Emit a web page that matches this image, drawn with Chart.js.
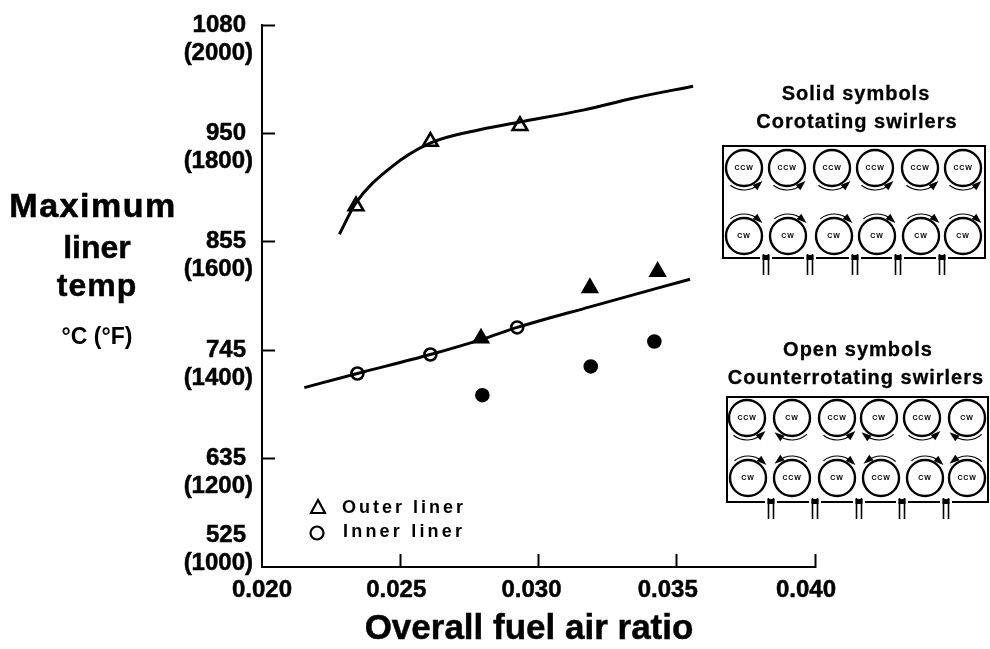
<!DOCTYPE html>
<html>
<head>
<meta charset="utf-8">
<title>Maximum liner temp</title>
<script src="https://cdn.jsdelivr.net/npm/chart.js@4/dist/chart.umd.min.js"></script>
<style>
    html, body { margin: 0; padding: 0; background: #fff; }
    canvas { display: block; }
</style>
</head>
<body>
<canvas id="liner_chart" width="990" height="649"></canvas>
<script>
    // fairing curves
    var outer_curve_x = [0.02280, 0.02340, 0.02463, 0.02608, 0.02799, 0.02933, 0.03161, 0.03342, 0.03559];
    var outer_curve_f = [1614, 1672, 1736, 1782, 1808, 1821, 1843, 1865, 1887];
    var inner_curve_x = [0.02153, 0.02345, 0.02609, 0.02795, 0.02923, 0.03186, 0.03548];
    var inner_curve_f = [1331, 1357, 1392, 1420, 1442, 1480, 1531];

    // counterrotating (open symbols)
    var open_outer_x = [0.02340, 0.02609, 0.02933];
    var open_outer_f = [1666, 1785, 1814];
    var open_inner_x = [0.02345, 0.02609, 0.02923];
    var open_inner_f = [1357, 1392, 1442];

    // corotating (solid symbols)
    var solid_outer_x = [0.02792, 0.03186, 0.03431];
    var solid_outer_f = [1422, 1515, 1545];
    var solid_inner_x = [0.02797, 0.03189, 0.03419];
    var solid_inner_f = [1317, 1370, 1416];

    var x_tick_labels = ["0.020", "0.025", "0.030", "0.035", "0.040"];
    var y_tick_f = [1000, 1200, 1400, 1600, 1800, 2000];
    var y_tick_c = ["525", "635", "745", "855", "950", "1080"];

    var corotating_top = ["CCW", "CCW", "CCW", "CCW", "CCW", "CCW"];
    var corotating_bottom = ["CW", "CW", "CW", "CW", "CW", "CW"];
    var counter_top = ["CCW", "CW", "CCW", "CW", "CCW", "CW"];
    var counter_bottom = ["CW", "CCW", "CW", "CCW", "CW", "CCW"];

    function to_points(xs, ys) {
        var points = [];
        for (var i = 0; i < xs.length; i++) {
            points.push({ x: xs[i], y: ys[i] });
        }
        return points;
    }

    function curve_dataset(name, xs, ys) {
        return {
            label: name,
            data: to_points(xs, ys),
            showLine: true,
            borderColor: "#000",
            borderWidth: 3,
            cubicInterpolationMode: "monotone",
            pointRadius: 0
        };
    }

    function marker_dataset(name, xs, ys, style, fill, size) {
        return {
            label: name,
            data: to_points(xs, ys),
            showLine: false,
            pointStyle: style,
            pointRadius: size,
            pointBackgroundColor: fill,
            pointBorderColor: "#000",
            pointBorderWidth: 2.6
        };
    }

    function put_text(ctx, text, x, y, font, align, spacing, heavy) {
        ctx.font = font;
        ctx.textAlign = align;
        ctx.textBaseline = "middle";
        ctx.letterSpacing = spacing || "0px";
        ctx.fillStyle = "#000";
        ctx.fillText(text, x, y);
        if (heavy) {
            ctx.strokeStyle = "#000";
            ctx.lineWidth = heavy;
            ctx.strokeText(text, x, y);
        }
        ctx.letterSpacing = "0px";
    }

    function draw_swirl_arrow(ctx, cx, cy, below, head_right) {
        var r = 22;
        var left = below ? 128 : -128;
        var right = below ? 48 : -48;
        var a0 = left * Math.PI / 180;
        var a1 = right * Math.PI / 180;
        ctx.lineWidth = 1.2;
        ctx.beginPath();
        ctx.arc(cx, cy, r, a0, a1, below);
        ctx.stroke();

        var head = head_right ? a1 : a0;
        var hx = cx + r * Math.cos(head);
        var hy = cy + r * Math.sin(head);
        // direction of travel along the arc at the head
        var dir = head + ((head_right === below) ? -Math.PI / 2 : Math.PI / 2);
        var side = dir + Math.PI / 2;
        ctx.beginPath();
        ctx.moveTo(hx + 5 * Math.cos(dir), hy + 5 * Math.sin(dir));
        ctx.lineTo(hx - 5 * Math.cos(dir) + 3.5 * Math.cos(side), hy - 5 * Math.sin(dir) + 3.5 * Math.sin(side));
        ctx.lineTo(hx - 5 * Math.cos(dir) - 3.5 * Math.cos(side), hy - 5 * Math.sin(dir) - 3.5 * Math.sin(side));
        ctx.closePath();
        ctx.fill();
    }

    function draw_row(ctx, labels, centers, cy, is_top) {
        for (var i = 0; i < labels.length; i++) {
            ctx.strokeStyle = "#000";
            ctx.lineWidth = 2.4;
            ctx.beginPath();
            ctx.arc(centers[i], cy, 18, 0, Math.PI * 2);
            ctx.stroke();
            put_text(ctx, labels[i], centers[i], cy, "bold 7px 'Liberation Sans'", "center", "0.8px");
            var head_right = is_top ? labels[i] === "CCW" : labels[i] === "CW";
            draw_swirl_arrow(ctx, centers[i], cy, is_top, head_right);
        }
    }

    function draw_inlet(ctx, x, y0, y1) {
        // gap in the box wall where the inlet comes through
        ctx.fillStyle = "#fff";
        ctx.fillRect(x - 6, y0 - 1.5, 12, 3);
        ctx.fillStyle = "#000";
        ctx.lineWidth = 1.6;
        ctx.beginPath();
        ctx.moveTo(x - 2.5, y0 - 4);
        ctx.lineTo(x - 2.5, y1);
        ctx.moveTo(x + 2.5, y0 - 4);
        ctx.lineTo(x + 2.5, y1);
        ctx.stroke();
        ctx.fillRect(x - 3.5, y0 - 3, 7, 5);
    }

    function draw_panel(ctx, box, top_labels, bottom_labels, top_x, bottom_x, top_y, bottom_y, inlets) {
        ctx.strokeStyle = "#000";
        ctx.fillStyle = "#000";
        ctx.lineWidth = 2;
        ctx.strokeRect(box.x0, box.y0, box.x1 - box.x0, box.y1 - box.y0);
        draw_row(ctx, top_labels, top_x, top_y, true);
        draw_row(ctx, bottom_labels, bottom_x, bottom_y, false);
        for (var i = 0; i < inlets.length; i++) {
            draw_inlet(ctx, inlets[i], box.y1, box.y1 + 17);
        }
    }

    var annotation_plugin = {
        id: "annotations",
        afterDraw: function (chart) {
            var ctx = chart.ctx;
            var x_scale = chart.scales.x;
            var y_scale = chart.scales.y;
            var tick_font = "bold 24px 'Liberation Sans'";
            var i;

            ctx.save();

            // y labels sit with the deg C value on the tick, the bottom pair is lifted off the axis
            for (i = 0; i < y_tick_f.length; i++) {
                var py = y_scale.getPixelForValue(y_tick_f[i]);
                var lift = i === 0 ? 32 : 0;
                put_text(ctx, y_tick_c[i], 246, py - lift, tick_font, "right", "0px", 0.5);
                put_text(ctx, "(" + y_tick_f[i] + ")", 253, py - lift + 28, tick_font, "right", "0px", 0.5);
            }

            // x labels drift left of their ticks in the original
            var x_nudge = [0, -4, -7, -9, -9];
            for (i = 0; i < x_tick_labels.length; i++) {
                var px = x_scale.getPixelForValue(parseFloat(x_tick_labels[i]));
                put_text(ctx, x_tick_labels[i], px + x_nudge[i], 590, tick_font, "center", "0px", 0.5);
            }

            put_text(ctx, "Overall fuel air ratio", 529, 629, "bold 35px 'Liberation Sans'", "center", "0px", 0.5);

            put_text(ctx, "Maximum", 93, 208, "bold 34px 'Liberation Sans'", "center", "1.5px", 0.6);
            put_text(ctx, "liner", 97, 249, "bold 32px 'Liberation Sans'", "center", "0px", 0.5);
            put_text(ctx, "temp", 97, 287, "bold 32px 'Liberation Sans'", "center", "1px", 0.5);
            put_text(ctx, "\u00b0C (\u00b0F)", 97, 338, "bold 23px 'Liberation Sans'", "center");

            // legend
            ctx.strokeStyle = "#000";
            ctx.lineWidth = 2.2;
            ctx.beginPath();
            ctx.moveTo(318, 500);
            ctx.lineTo(325, 513);
            ctx.lineTo(311, 513);
            ctx.closePath();
            ctx.stroke();
            ctx.beginPath();
            ctx.arc(317, 533, 6.5, 0, Math.PI * 2);
            ctx.stroke();
            put_text(ctx, "Outer liner", 342, 508, "bold 18px 'Liberation Sans'", "left", "3px");
            put_text(ctx, "Inner liner", 343, 532, "bold 18px 'Liberation Sans'", "left", "3.2px");

            // swirler schematics
            put_text(ctx, "Solid symbols", 856, 94, "bold 20px 'Liberation Sans'", "center", "1px", 0.3);
            put_text(ctx, "Corotating swirlers", 857, 122, "bold 20px 'Liberation Sans'", "center", "1px", 0.3);
            put_text(ctx, "Open symbols", 858, 350, "bold 20px 'Liberation Sans'", "center", "1px", 0.3);
            put_text(ctx, "Counterrotating swirlers", 856, 378, "bold 20px 'Liberation Sans'", "center", "1px", 0.3);

            draw_panel(ctx, { x0: 723, y0: 146, x1: 985, y1: 258 }, corotating_top, corotating_bottom,
                [744, 787, 832, 875, 920, 963], [744, 788, 834, 877, 921, 963], 168, 236,
                [766, 810, 855, 898, 942]);
            draw_panel(ctx, { x0: 727, y0: 397, x1: 988, y1: 502 }, counter_top, counter_bottom,
                [747, 792, 837, 879, 922, 967], [748, 792, 837, 881, 925, 967], 418, 478,
                [771, 815, 859, 902, 946]);

            ctx.restore();
        }
    };

    function hide_origin_tick(context) {
        return context.index === 0 ? "rgba(0,0,0,0)" : "#000";
    }

    new Chart(document.getElementById("liner_chart").getContext("2d"), {
        type: "scatter",
        data: {
            datasets: [
                curve_dataset("Outer liner fit", outer_curve_x, outer_curve_f),
                curve_dataset("Inner liner fit", inner_curve_x, inner_curve_f),
                marker_dataset("Outer liner, counterrotating", open_outer_x, open_outer_f, "triangle", "#fff", 8.5),
                marker_dataset("Inner liner, counterrotating", open_inner_x, open_inner_f, "circle", "#fff", 6),
                marker_dataset("Outer liner, corotating", solid_outer_x, solid_outer_f, "triangle", "#000", 8),
                marker_dataset("Inner liner, corotating", solid_inner_x, solid_inner_f, "circle", "#000", 6)
            ]
        },
        options: {
            responsive: false,
            animation: false,
            layout: { padding: { top: 25, right: 175, bottom: 0, left: 0 } },
            plugins: {
                legend: { display: false },
                tooltip: { enabled: false }
            },
            scales: {
                x: {
                    type: "linear",
                    min: 0.02,
                    max: 0.04,
                    afterFit: function (scale) { scale.height = 82; },
                    border: { color: "#000", width: 2 },
                    grid: { drawOnChartArea: false, tickLength: -13, tickWidth: 2, color: hide_origin_tick },
                    ticks: { display: false, stepSize: 0.005 }
                },
                y: {
                    type: "linear",
                    min: 1000,
                    max: 2000,
                    afterFit: function (scale) { scale.width = 262; },
                    border: { color: "#000", width: 2 },
                    grid: { drawOnChartArea: false, tickLength: -13, tickWidth: 2, color: hide_origin_tick },
                    ticks: { display: false, stepSize: 200 }
                }
            }
        },
        plugins: [annotation_plugin]
    });
</script>
</body>
</html>
